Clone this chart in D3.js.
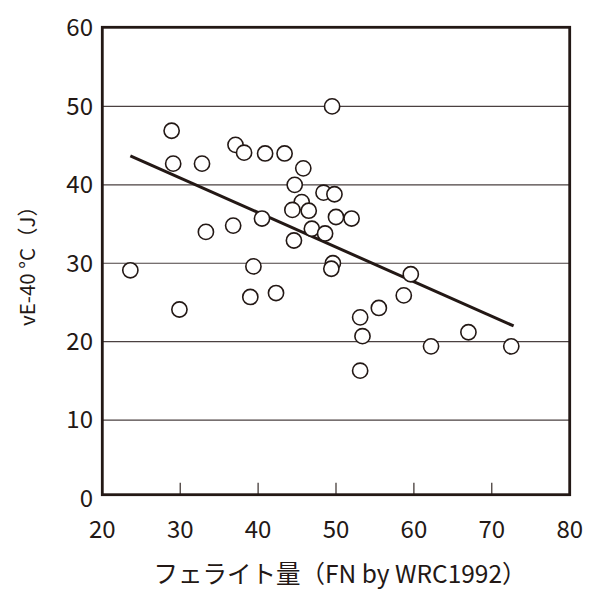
<!DOCTYPE html>
<html><head><meta charset="utf-8">
<script src="https://cdn.jsdelivr.net/npm/d3@7/dist/d3.min.js"></script>
<style>body{margin:0;background:#fff}svg{display:block}text{font-family:"Noto Sans CJK JP","Noto Sans",sans-serif;fill:#231815}</style>
</head><body><svg id="c" width="600" height="591"></svg>
<script>
const ferrite = [23.6,28.9,29.1,29.9,32.8,33.3,37.1,38.2,36.8,39.4,39.0,40.9,40.5,42.3,43.4,45.8,44.7,45.6,44.4,46.5,44.6,46.9,48.6,48.4,49.8,49.5,50.0,52.0,49.6,49.4,53.1,53.4,53.1,55.5,58.7,59.6,62.2,67.0,72.5];
const energy  = [29.1,46.9,42.7,24.1,42.7,34.0,45.1,44.1,34.8,29.6,25.7,44.0,35.7,26.2,44.0,42.1,40.0,37.8,36.8,36.7,32.9,34.4,33.8,39.0,38.8,50.0,35.9,35.7,30.0,29.3,23.1,20.7,16.3,24.3,25.9,28.6,19.4,21.2,19.4];
const trendX = [23.6, 72.8];
const trendY = [43.7, 22.0];
const xTicks = [20,30,40,50,60,70,80];
const yTicks = [0,10,20,30,40,50,60];
const xTitle = "フェライト量（FN by WRC1992）";
const yTitle = "vE-40 °C（J）";

const ink = "#231815";
const svg = d3.select("#c");
const x = d3.scaleLinear().domain([20,80]).range([102.3,569.7]);
const y = d3.scaleLinear().domain([0,60]).range([498.5,28]);

// gridlines
svg.append("g").selectAll("line").data(yTicks.filter(v=>v>0&&v<60)).join("line")
  .attr("x1",x(20)).attr("x2",x(80)).attr("y1",d=>y(d)).attr("y2",d=>y(d))
  .attr("stroke","#4a4040").attr("stroke-width",1.1);

// x ticks (inward from bottom)
const bottom = y(0)-3.8;
svg.append("g").selectAll("line").data(xTicks.slice(1,-1)).join("line")
  .attr("x1",d=>x(d)).attr("x2",d=>x(d)).attr("y1",bottom).attr("y2",bottom-12)
  .attr("stroke",ink).attr("stroke-width",1.1);

// frame
svg.append("rect").attr("x",x(20)).attr("y",y(60)-0.7).attr("width",x(80)-x(20)).attr("height",bottom-(y(60)-0.7))
  .attr("fill","none").attr("stroke",ink).attr("stroke-width",2.8);

// tick labels
svg.append("g").selectAll("text").data(yTicks).join("text")
  .attr("x",93).attr("y",d=>y(d)).attr("dy","0.35em").attr("text-anchor","end")
  .attr("font-size",24).text(d=>d);
svg.append("g").selectAll("text").data(xTicks).join("text")
  .attr("x",d=>x(d)).attr("y",538).attr("text-anchor","middle")
  .attr("font-size",24).text(d=>d);

// trend line
svg.append("line").attr("x1",x(trendX[0])).attr("y1",y(trendY[0])).attr("x2",x(trendX[1])).attr("y2",y(trendY[1]))
  .attr("stroke",ink).attr("stroke-width",3);

// points
svg.append("g").selectAll("circle").data(ferrite.map((v,i)=>[v,energy[i]])).join("circle")
  .attr("cx",d=>x(d[0])).attr("cy",d=>y(d[1])).attr("r",7.6)
  .attr("fill","#fff").attr("stroke",ink).attr("stroke-width",1.6);

// titles
svg.append("text").attr("x",340).attr("y",583).attr("text-anchor","middle").attr("font-size",24.5).text(xTitle);
svg.append("text").attr("transform","translate(28,261) rotate(-90)").attr("text-anchor","middle").attr("dy","0.35em")
  .attr("font-size",20.5).text(yTitle);
</script></body></html>
